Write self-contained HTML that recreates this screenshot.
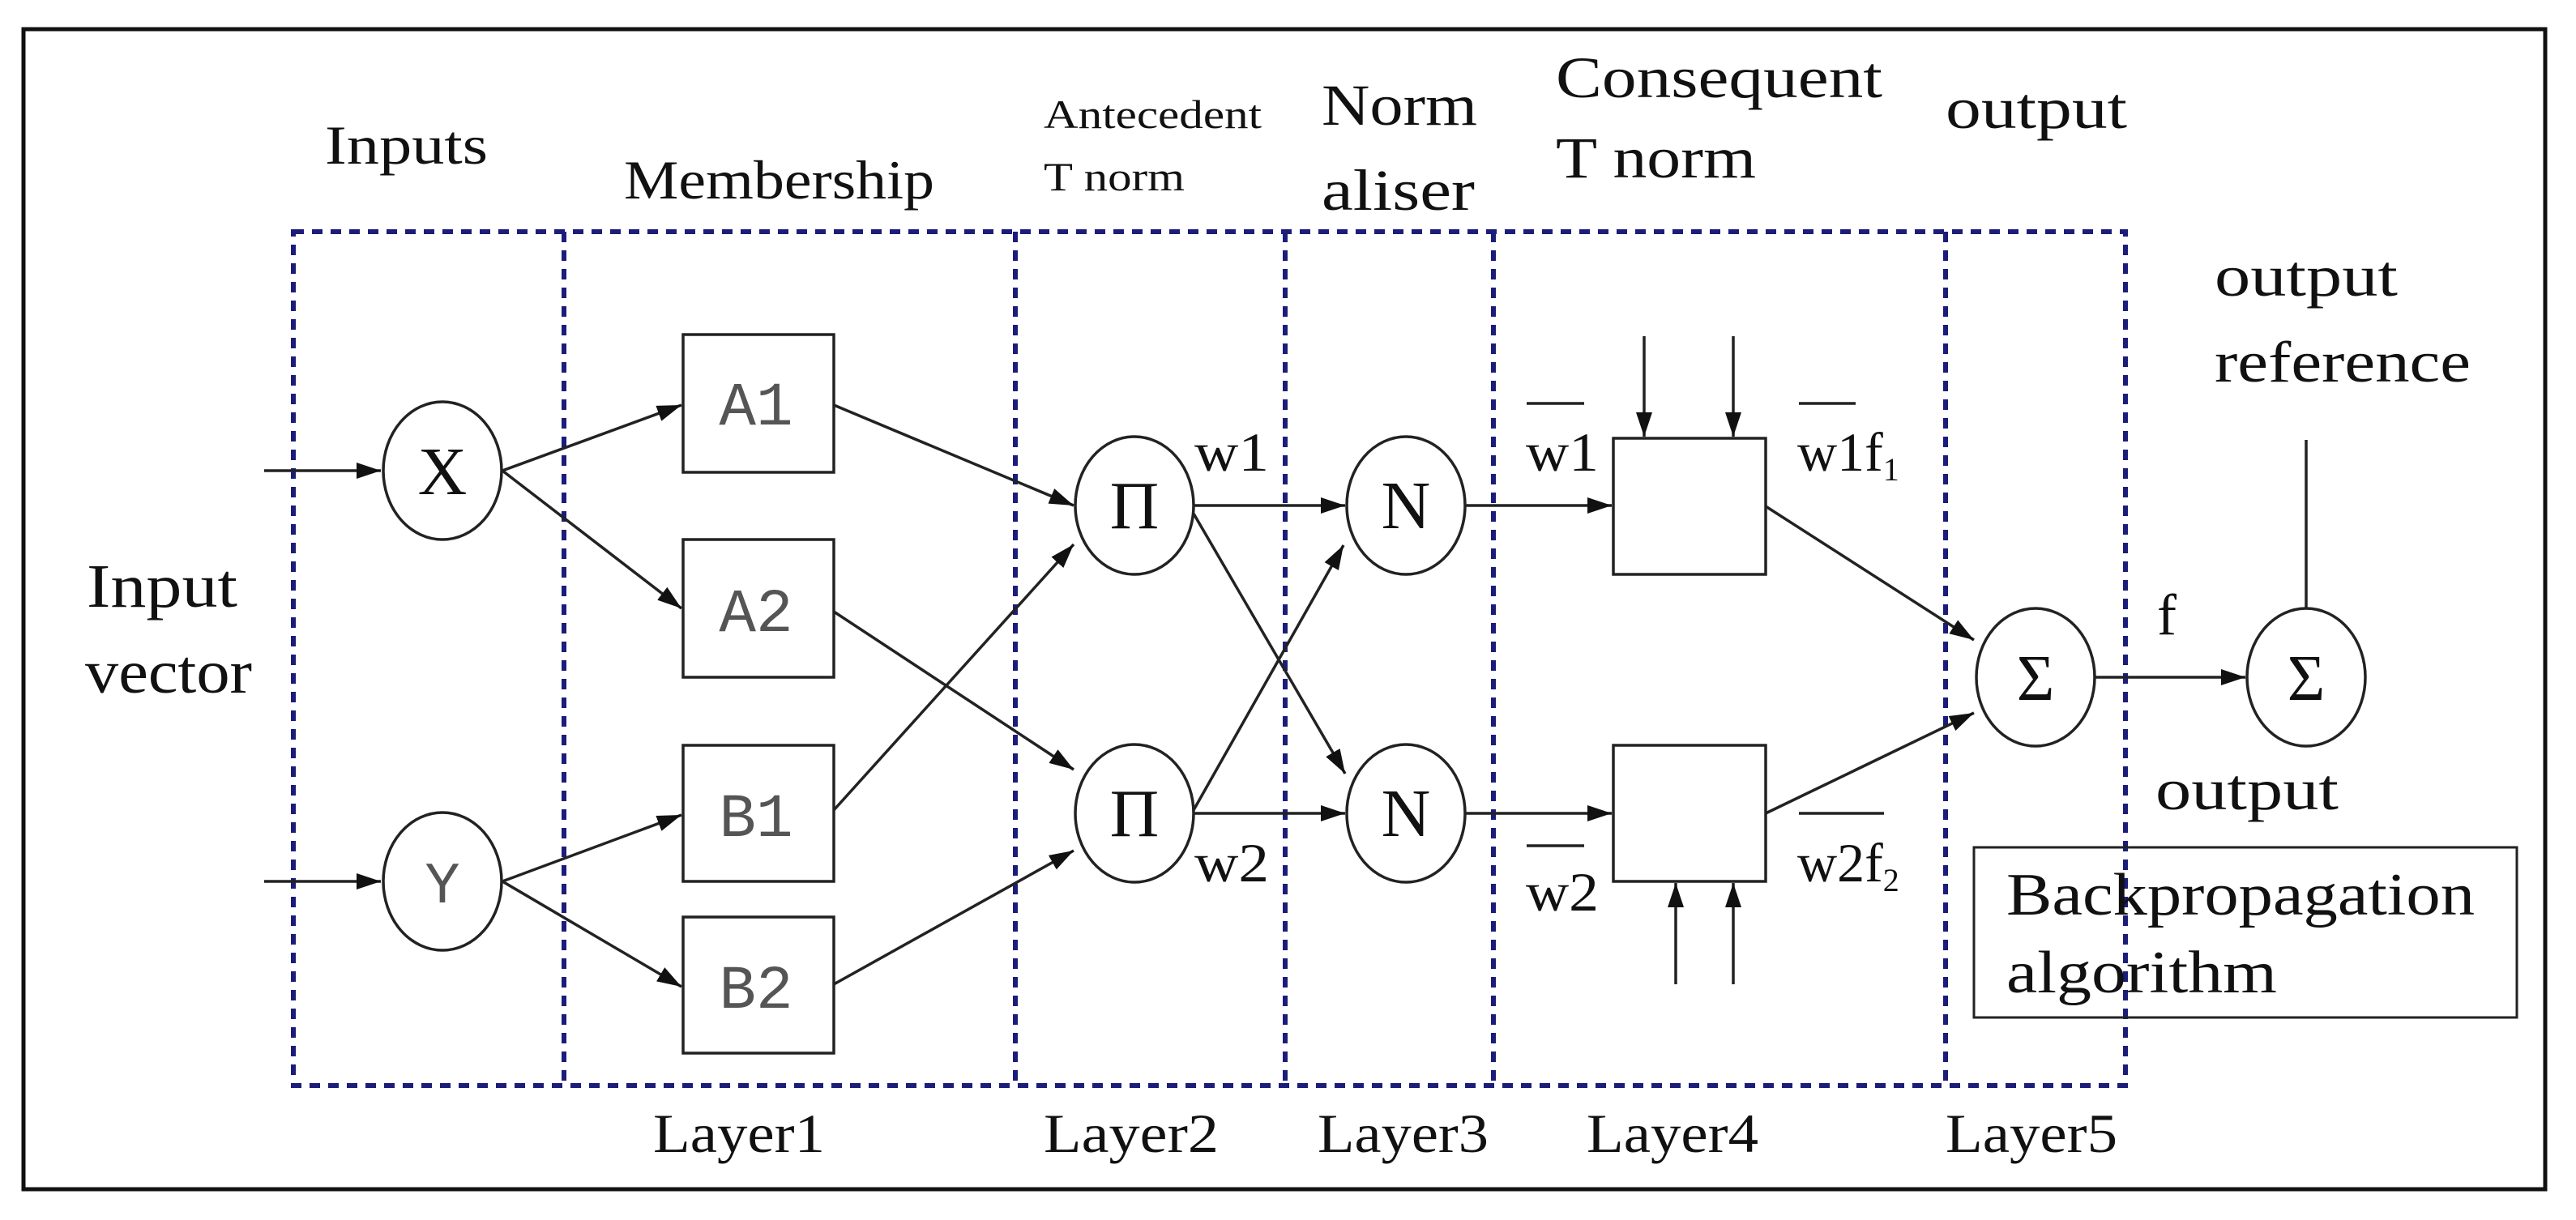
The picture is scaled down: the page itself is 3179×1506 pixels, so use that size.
<!DOCTYPE html>
<html><head><meta charset="utf-8"><style>
html,body{margin:0;padding:0;background:#fff;}
svg{display:block;}
text{font-family:"Liberation Serif",serif;fill:#111;}
.m{font-family:"Liberation Mono",monospace;fill:#555;}
</style></head><body>
<svg width="3179" height="1506" viewBox="0 0 3179 1506" xmlns="http://www.w3.org/2000/svg">
<defs>
<marker id="ar" viewBox="0 0 30 20" refX="30" refY="10" markerWidth="30" markerHeight="20" orient="auto" markerUnits="userSpaceOnUse"><path d="M0,0 L30,10 L0,20 z" fill="#111"/></marker>
</defs>
<rect x="0" y="0" width="3179" height="1506" fill="#fff"/>
<rect x="29" y="36" width="3112" height="1432" fill="none" stroke="#111" stroke-width="5"/>

<g stroke="#1c1c7a" stroke-width="6" stroke-dasharray="13,10" fill="none">
<rect x="362" y="286" width="2261" height="1054"/>
<line x1="696" y1="286" x2="696" y2="1340"/>
<line x1="1253" y1="286" x2="1253" y2="1340"/>
<line x1="1586" y1="286" x2="1586" y2="1340"/>
<line x1="1843" y1="286" x2="1843" y2="1340"/>
<line x1="2401" y1="286" x2="2401" y2="1340"/>
</g>

<g stroke="#222" stroke-width="3.5" fill="none">
<ellipse cx="546" cy="581" rx="73" ry="85"/>
<ellipse cx="546" cy="1088" rx="73" ry="85"/>
<ellipse cx="1400" cy="624" rx="73" ry="85"/>
<ellipse cx="1400" cy="1004" rx="73" ry="85"/>
<ellipse cx="1735" cy="624" rx="73" ry="85"/>
<ellipse cx="1735" cy="1004" rx="73" ry="85"/>
<ellipse cx="2512" cy="836" rx="73" ry="85"/>
<ellipse cx="2846" cy="836" rx="73" ry="85"/>
<rect x="843" y="413" width="186" height="170"/>
<rect x="843" y="666" width="186" height="170"/>
<rect x="843" y="920" width="186" height="168"/>
<rect x="843" y="1132" width="186" height="168"/>
<rect x="1991" y="541" width="188" height="168"/>
<rect x="1991" y="920" width="188" height="168"/>
<rect x="2436" y="1046" width="670" height="210" stroke-width="3"/>
<line x1="326" y1="581" x2="470" y2="581" marker-end="url(#ar)"/>
<line x1="326" y1="1088" x2="470" y2="1088" marker-end="url(#ar)"/>
<line x1="620" y1="581" x2="841" y2="500" marker-end="url(#ar)"/>
<line x1="620" y1="581" x2="841" y2="751" marker-end="url(#ar)"/>
<line x1="620" y1="1088" x2="841" y2="1006" marker-end="url(#ar)"/>
<line x1="620" y1="1088" x2="841" y2="1218" marker-end="url(#ar)"/>
<line x1="1029" y1="500" x2="1325" y2="624" marker-end="url(#ar)"/>
<line x1="1029" y1="755" x2="1325" y2="950" marker-end="url(#ar)"/>
<line x1="1029" y1="1000" x2="1325" y2="672" marker-end="url(#ar)"/>
<line x1="1029" y1="1215" x2="1325" y2="1050" marker-end="url(#ar)"/>
<line x1="1473" y1="624" x2="1660" y2="624" marker-end="url(#ar)"/>
<line x1="1473" y1="1004" x2="1660" y2="1004" marker-end="url(#ar)"/>
<line x1="1473" y1="634" x2="1660" y2="955" marker-end="url(#ar)"/>
<line x1="1473" y1="1000" x2="1658" y2="673" marker-end="url(#ar)"/>
<line x1="1808" y1="624" x2="1989" y2="624" marker-end="url(#ar)"/>
<line x1="1808" y1="1004" x2="1989" y2="1004" marker-end="url(#ar)"/>
<line x1="2179" y1="625" x2="2436" y2="790" marker-end="url(#ar)"/>
<line x1="2179" y1="1004" x2="2436" y2="880" marker-end="url(#ar)"/>
<line x1="2585" y1="836" x2="2771" y2="836" marker-end="url(#ar)"/>
<line x1="2029" y1="415" x2="2029" y2="539" marker-end="url(#ar)"/>
<line x1="2139" y1="415" x2="2139" y2="539" marker-end="url(#ar)"/>
<line x1="2068" y1="1215" x2="2068" y2="1090" marker-end="url(#ar)"/>
<line x1="2139" y1="1215" x2="2139" y2="1090" marker-end="url(#ar)"/>
<line x1="2846" y1="543" x2="2846" y2="751"/>
<line x1="1884" y1="498" x2="1955" y2="498"/>
<line x1="2220" y1="498" x2="2290" y2="498"/>
<line x1="1884" y1="1044" x2="1955" y2="1044"/>
<line x1="2220" y1="1004" x2="2325" y2="1004"/>
</g>

<text x="546" y="610" font-size="84" text-anchor="middle">X</text>
<text x="546" y="1114" font-size="72" text-anchor="middle" class="m">Y</text>
<text x="933" y="524" font-size="76" text-anchor="middle" class="m">A1</text>
<text x="933" y="779" font-size="76" text-anchor="middle" class="m">A2</text>
<text x="933" y="1032" font-size="76" text-anchor="middle" class="m">B1</text>
<text x="933" y="1244" font-size="76" text-anchor="middle" class="m">B2</text>
<text x="1400" y="652" font-size="84" text-anchor="middle">Π</text>
<text x="1400" y="1032" font-size="84" text-anchor="middle">Π</text>
<text x="1735" y="652" font-size="84" text-anchor="middle">N</text>
<text x="1735" y="1032" font-size="84" text-anchor="middle">N</text>
<text x="2512" y="864" font-size="80" text-anchor="middle">Σ</text>
<text x="2846" y="864" font-size="80" text-anchor="middle">Σ</text>

<g font-size="68" lengthAdjust="spacingAndGlyphs">
<text x="401" y="202" textLength="201" lengthAdjust="spacingAndGlyphs">Inputs</text>
<text x="770" y="245" textLength="383" lengthAdjust="spacingAndGlyphs">Membership</text>
<text x="107" y="749" font-size="76" textLength="186" lengthAdjust="spacingAndGlyphs">Input</text>
<text x="105" y="855" font-size="76" textLength="206" lengthAdjust="spacingAndGlyphs">vector</text>
<text x="1631" y="154" font-size="72" textLength="192" lengthAdjust="spacingAndGlyphs">Norm</text>
<text x="1631" y="259" font-size="72" textLength="189" lengthAdjust="spacingAndGlyphs">aliser</text>
<text x="1920" y="120" font-size="72" textLength="403" lengthAdjust="spacingAndGlyphs">Consequent</text>
<text x="1920" y="219" font-size="72" textLength="247" lengthAdjust="spacingAndGlyphs">T norm</text>
<text x="2401" y="158" font-size="72" textLength="224" lengthAdjust="spacingAndGlyphs">output</text>
<text x="2733" y="365" font-size="72" textLength="226" lengthAdjust="spacingAndGlyphs">output</text>
<text x="2733" y="471" font-size="72" textLength="316" lengthAdjust="spacingAndGlyphs">reference</text>
<text x="2660" y="999" font-size="72" textLength="226" lengthAdjust="spacingAndGlyphs">output</text>
<text x="2476" y="1129" font-size="74" textLength="578" lengthAdjust="spacingAndGlyphs">Backpropagation</text>
<text x="2476" y="1225" font-size="74" textLength="334" lengthAdjust="spacingAndGlyphs">algorithm</text>
<text x="806" y="1422" textLength="212" lengthAdjust="spacingAndGlyphs">Layer1</text>
<text x="1288" y="1422" textLength="216" lengthAdjust="spacingAndGlyphs">Layer2</text>
<text x="1626" y="1422" textLength="211" lengthAdjust="spacingAndGlyphs">Layer3</text>
<text x="1958" y="1422" textLength="212" lengthAdjust="spacingAndGlyphs">Layer4</text>
<text x="2401" y="1422" textLength="212" lengthAdjust="spacingAndGlyphs">Layer5</text>
<text x="1474" y="581" textLength="92" lengthAdjust="spacingAndGlyphs">w1</text>
<text x="1474" y="1088" textLength="92" lengthAdjust="spacingAndGlyphs">w2</text>
<text x="1883" y="581" textLength="90" lengthAdjust="spacingAndGlyphs">w1</text>
<text x="1883" y="1124" textLength="90" lengthAdjust="spacingAndGlyphs">w2</text>
<text x="2218" y="581">w1f<tspan font-size="40" dy="12">1</tspan></text>
<text x="2218" y="1088">w2f<tspan font-size="40" dy="12">2</tspan></text>
<text x="2662" y="783" font-size="72">f</text>
</g>
<text x="1288" y="158" font-size="50" textLength="269" lengthAdjust="spacingAndGlyphs">Antecedent</text>
<text x="1288" y="235" font-size="50" textLength="174" lengthAdjust="spacingAndGlyphs">T norm</text>
</svg>
</body></html>
